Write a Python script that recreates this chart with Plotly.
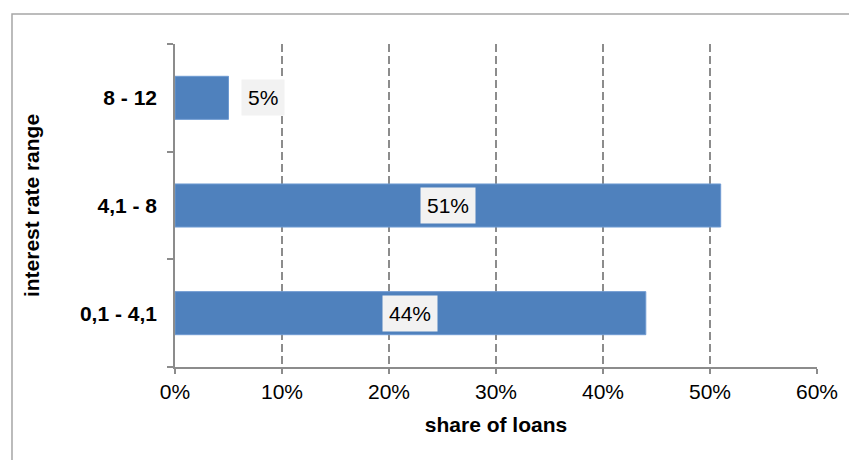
import plotly.graph_objects as go

categories = ["0,1 - 4,1", "4,1 - 8", "8 - 12"]
shares = [0.44, 0.51, 0.05]
labels = ["44%", "51%", "5%"]
inside = [True, True, False]

FONT = "Liberation Sans, Arial"
FS = 21

fig = go.Figure()
fig.add_trace(go.Bar(
    y=categories, x=shares, orientation="h",
    marker=dict(color="#4f81bd", line=dict(color="#6f9bd2", width=1)),
    width=0.4, hoverinfo="skip",
))

for c, v, lab, ins in zip(categories, shares, labels, inside):
    if ins:
        fig.add_annotation(x=v / 2, y=c, text=lab, showarrow=False,
                           xanchor="center", yanchor="middle",
                           bgcolor="#f2f2f2", borderpad=6,
                           font=dict(family=FONT, size=FS, color="#000"))
    else:
        fig.add_annotation(x=v, y=c, text=lab, showarrow=False,
                           xanchor="left", yanchor="middle", xshift=12,
                           bgcolor="#f2f2f2", borderpad=6,
                           font=dict(family=FONT, size=FS, color="#000"))

fig.add_shape(type="rect", xref="paper", yref="paper",
              x0=-0.2539, x1=1.3, y0=-0.6, y1=1.093,
              line=dict(color="#a6a6a6", width=1.5), fillcolor="rgba(0,0,0,0)", layer="below")

fig.update_layout(
    width=857, height=460,
    margin=dict(l=167, r=48, t=36, b=101),
    paper_bgcolor="white", plot_bgcolor="white",
    showlegend=False,
    font=dict(family=FONT, color="#000"),
    xaxis=dict(
        range=[0, 0.6], tickvals=[0, 0.1, 0.2, 0.3, 0.4, 0.5, 0.6],
        tickformat=".0%", tickfont=dict(size=FS),
        showgrid=True, gridcolor="#8c8c8c", griddash="8px,4px", gridwidth=1.6,
        zeroline=False, showline=True, linecolor="#8c8c8c", linewidth=1.6,
        ticks="outside", ticklen=5, tickcolor="#8c8c8c", tickwidth=1.5,
        title=dict(text="<b>share of loans</b>", font=dict(size=FS), standoff=15),
        fixedrange=True,
    ),
    yaxis=dict(
        type="category", categoryorder="array", categoryarray=categories,
        tickfont=dict(size=FS), ticklabelstandoff=12,
        showgrid=False, zeroline=False, showline=True, linecolor="#8c8c8c", linewidth=1.6,
        ticks="outside", tickson="boundaries", ticklen=6, tickcolor="#8c8c8c", tickwidth=1.5,
        tickvals=categories, ticktext=["<b>%s</b>" % c for c in categories],
        title=dict(text="<b>interest rate range</b>", font=dict(size=FS), standoff=35),
        fixedrange=True,
    ),
)

fig.write_html("out.html")
